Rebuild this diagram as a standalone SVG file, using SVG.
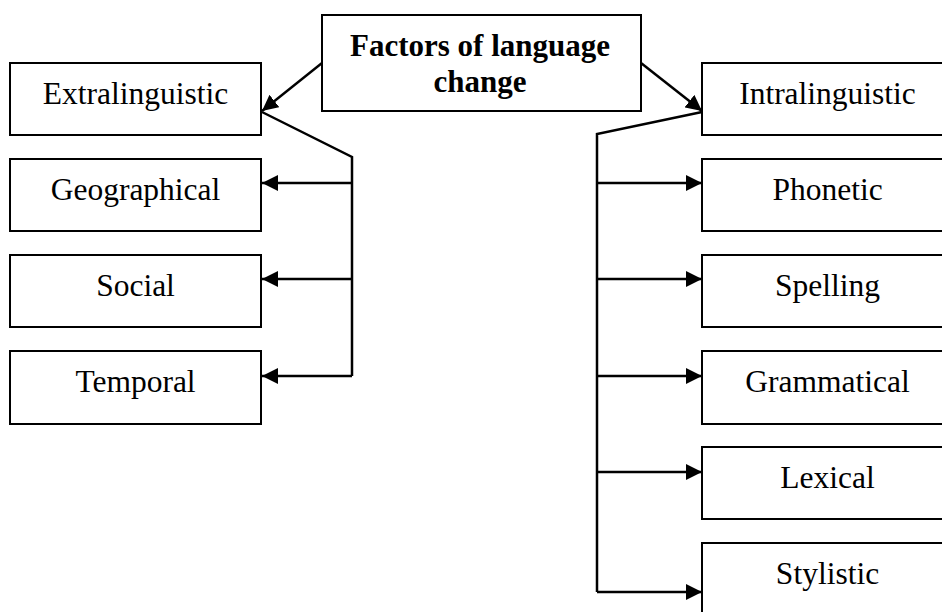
<svg xmlns="http://www.w3.org/2000/svg" width="942" height="612" viewBox="0 0 942 612">
  <style>
    .box { fill: #fff; stroke: #000; stroke-width: 2; }
    .lbl { font-family: "Liberation Serif", "Times New Roman", serif; font-size: 31.5px; fill: #000; text-anchor: middle; }
    .title { font-weight: bold; font-size: 31px; }
    .wire { fill: none; stroke: #000; stroke-width: 2.5; }
    .arr { marker-end: url(#head); }
  </style>
  <defs>
    <marker id="head" viewBox="0 0 16 16" refX="16" refY="8" markerWidth="16" markerHeight="16" markerUnits="userSpaceOnUse" orient="auto">
      <path d="M0,0 L16,8 L0,16 Z" fill="#000"/>
    </marker>
  </defs>
  <rect width="942" height="612" fill="#fff"/>

  <g id="connectors">
    <!-- root to the two branches -->
    <line class="wire arr" x1="322" y1="63" x2="262" y2="111"/>
    <line class="wire arr" x1="641" y1="63" x2="702" y2="111"/>
    <!-- extralinguistic bus -->
    <polyline class="wire" points="262,112 352,157 352,376"/>
    <line class="wire arr" x1="352" y1="183" x2="262" y2="183"/>
    <line class="wire arr" x1="352" y1="279" x2="262" y2="279"/>
    <line class="wire arr" x1="352" y1="376" x2="262" y2="376"/>
    <!-- intralinguistic bus -->
    <polyline class="wire" points="702,112 597,134 597,592"/>
    <line class="wire arr" x1="597" y1="183" x2="702" y2="183"/>
    <line class="wire arr" x1="597" y1="279" x2="702" y2="279"/>
    <line class="wire arr" x1="597" y1="376" x2="702" y2="376"/>
    <line class="wire arr" x1="597" y1="472" x2="702" y2="472"/>
    <line class="wire arr" x1="597" y1="592" x2="702" y2="592"/>
  </g>

  <g id="root">
    <rect class="box" x="322" y="15" width="319" height="96"/>
    <text class="lbl title" x="480" y="55.5">Factors of language</text>
    <text class="lbl title" x="480" y="92">change</text>
  </g>

  <g id="extralinguistic">
    <rect class="box" x="10" y="63" width="251" height="72"/>
    <text class="lbl" x="135.5" y="104">Extralinguistic</text>
  </g>
  <g id="geographical">
    <rect class="box" x="10" y="159" width="251" height="72"/>
    <text class="lbl" x="135.5" y="200">Geographical</text>
  </g>
  <g id="social">
    <rect class="box" x="10" y="255" width="251" height="72"/>
    <text class="lbl" x="135.5" y="296">Social</text>
  </g>
  <g id="temporal">
    <rect class="box" x="10" y="351" width="251" height="73"/>
    <text class="lbl" x="135.5" y="392">Temporal</text>
  </g>

  <g id="intralinguistic">
    <rect class="box" x="702" y="63" width="251" height="72"/>
    <text class="lbl" x="827.5" y="104">Intralinguistic</text>
  </g>
  <g id="phonetic">
    <rect class="box" x="702" y="159" width="251" height="72"/>
    <text class="lbl" x="827.5" y="200">Phonetic</text>
  </g>
  <g id="spelling">
    <rect class="box" x="702" y="255" width="251" height="72"/>
    <text class="lbl" x="827.5" y="296">Spelling</text>
  </g>
  <g id="grammatical">
    <rect class="box" x="702" y="351" width="251" height="73"/>
    <text class="lbl" x="827.5" y="392">Grammatical</text>
  </g>
  <g id="lexical">
    <rect class="box" x="702" y="447" width="251" height="72"/>
    <text class="lbl" x="827.5" y="488">Lexical</text>
  </g>
  <g id="stylistic">
    <rect class="box" x="702" y="543" width="251" height="72"/>
    <text class="lbl" x="827.5" y="584">Stylistic</text>
  </g>
</svg>
